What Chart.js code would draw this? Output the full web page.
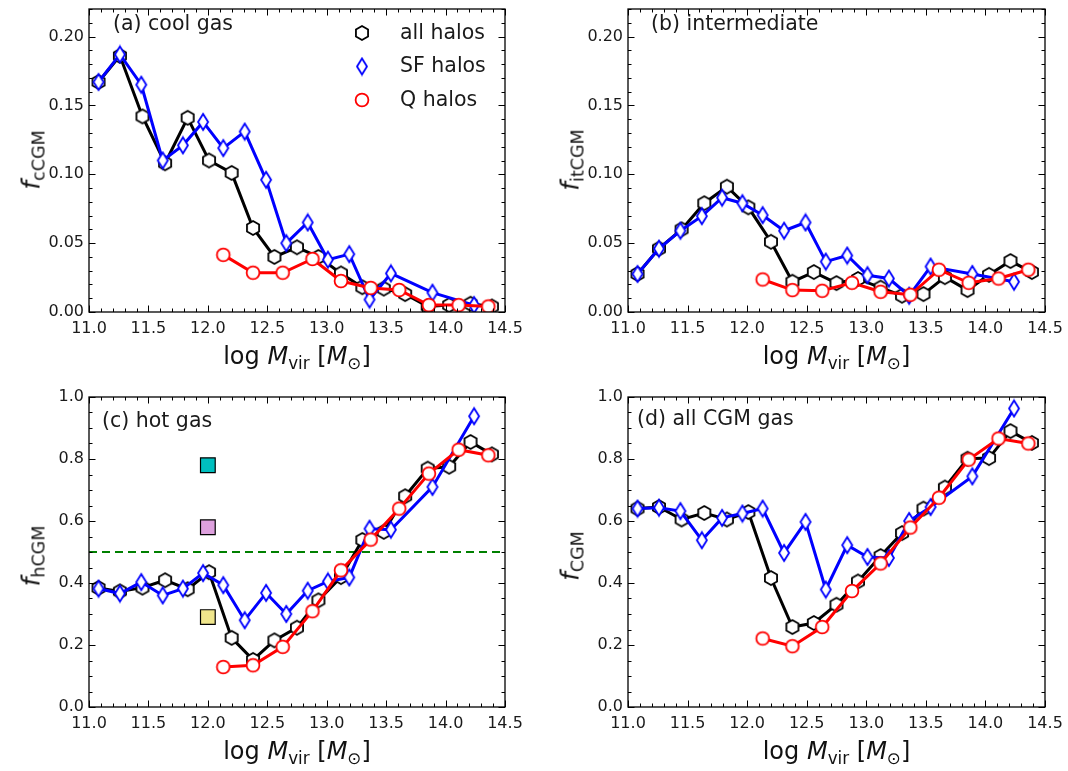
<!DOCTYPE html>
<html>
<head>
<meta charset="utf-8">
<title>CGM gas fractions vs halo mass</title>
<script src="https://cdn.jsdelivr.net/npm/chart.js@4.4.1/dist/chart.umd.min.js"></script>
<style>
  body { margin: 0; background: #fff; font-family: 'DejaVu Sans', sans-serif; color: #111; }
  #fig { position: relative; width: 1068px; height: 771px; overflow: hidden; }
  #fig canvas { position: absolute; }
  .txt { position: absolute; white-space: nowrap; font-size: 20.5px; line-height: 20px; color: #1a1a1a; }
  .xt { position: absolute; white-space: nowrap; font-size: 24px; line-height: 24px; text-align: center; }
  .yt { position: absolute; white-space: nowrap; font-size: 25px; line-height: 25px; transform: translate(-50%, -50%) rotate(-90deg); }
  sub { font-size: 0.7em; line-height: 0; vertical-align: -0.28em; }
</style>
</head>
<body>
<div id="fig">
  <canvas id="pa" width="540" height="345" style="left:0;top:0"></canvas>
  <canvas id="pb" width="523" height="345" style="left:545px;top:0"></canvas>
  <canvas id="pc" width="540" height="360" style="left:0;top:380px"></canvas>
  <canvas id="pd" width="523" height="360" style="left:545px;top:380px"></canvas>

  <div class="txt" style="left:113px;top:13px">(a) cool gas</div>
  <div class="txt" style="left:651px;top:13px">(b) intermediate</div>
  <div class="txt" style="left:102px;top:410px">(c) hot gas</div>
  <div class="txt" style="left:637px;top:408px">(d) all CGM gas</div>

  <div class="txt" style="left:400px;top:22px">all halos</div>
  <div class="txt" style="left:400px;top:55px">SF halos</div>
  <div class="txt" style="left:400px;top:89px">Q halos</div>

  <div class="xt" style="left:89px;top:344px;width:416px">log <i>M</i><sub>vir</sub> [<i>M</i><sub>⊙</sub>]</div>
  <div class="xt" style="left:628px;top:344px;width:417px">log <i>M</i><sub>vir</sub> [<i>M</i><sub>⊙</sub>]</div>
  <div class="xt" style="left:89px;top:739px;width:416px">log <i>M</i><sub>vir</sub> [<i>M</i><sub>⊙</sub>]</div>
  <div class="xt" style="left:628px;top:739px;width:417px">log <i>M</i><sub>vir</sub> [<i>M</i><sub>⊙</sub>]</div>

  <div class="yt" style="left:31px;top:160px"><i>f</i><sub>cCGM</sub></div>
  <div class="yt" style="left:570px;top:160px"><i>f</i><sub>itCGM</sub></div>
  <div class="yt" style="left:31px;top:556px"><i>f</i><sub>hCGM</sub></div>
  <div class="yt" style="left:570px;top:556px"><i>f</i><sub>CGM</sub></div>
</div>

<script>
// ticks
const xTicks = [11.0, 11.5, 12.0, 12.5, 13.0, 13.5, 14.0, 14.5]
const yTicksLow = [0, 0.05, 0.10, 0.15, 0.20]
const yTicksHigh = [0, 0.2, 0.4, 0.6, 0.8, 1.0]

// bin positions (log Mvir) per sample
const xAll = [11.08, 11.26, 11.45, 11.64, 11.83, 12.01, 12.20, 12.38, 12.56, 12.75, 12.93, 13.12, 13.30, 13.48, 13.66, 13.85, 14.03, 14.21, 14.39]
const xSF = [11.08, 11.26, 11.44, 11.62, 11.79, 11.96, 12.13, 12.31, 12.49, 12.66, 12.84, 13.01, 13.19, 13.36, 13.54, 13.89, 14.24]
const xQ = [12.13, 12.38, 12.63, 12.88, 13.12, 13.37, 13.61, 13.86, 14.11, 14.36]

// (a) cool gas
const coolAll = [0.167, 0.186, 0.142, 0.108, 0.141, 0.110, 0.101, 0.061, 0.040, 0.047, 0.040, 0.028, 0.018, 0.017, 0.013, 0.004, 0.005, 0.006, 0.004]
const coolSF = [0.167, 0.187, 0.165, 0.110, 0.121, 0.138, 0.119, 0.131, 0.096, 0.050, 0.065, 0.038, 0.042, 0.009, 0.028, 0.014, 0.005]
const coolQ = [0.0415, 0.0285, 0.0285, 0.0385, 0.0225, 0.0175, 0.016, 0.005, 0.005, 0.004]

// (b) intermediate
const interAll = [0.0276, 0.046, 0.060, 0.079, 0.091, 0.076, 0.051, 0.022, 0.029, 0.021, 0.024, 0.0177, 0.0118, 0.013, 0.0253, 0.0159, 0.027, 0.037, 0.029]
const interSF = [0.0276, 0.046, 0.059, 0.0696, 0.083, 0.079, 0.0703, 0.059, 0.065, 0.0366, 0.041, 0.0267, 0.0243, 0.0118, 0.033, 0.0276, 0.022]
const interQ = [0.0236, 0.0159, 0.0154, 0.0212, 0.0147, 0.0125, 0.0307, 0.0212, 0.0243, 0.0307]

// (c) hot gas
const hotAll = [0.384, 0.373, 0.385, 0.409, 0.380, 0.435, 0.223, 0.152, 0.215, 0.256, 0.344, 0.419, 0.539, 0.565, 0.680, 0.769, 0.775, 0.855, 0.815]
const hotSF = [0.382, 0.366, 0.403, 0.360, 0.382, 0.432, 0.393, 0.280, 0.368, 0.300, 0.375, 0.405, 0.418, 0.575, 0.572, 0.710, 0.938]
const hotQ = [0.129, 0.1345, 0.194, 0.309, 0.441, 0.540, 0.640, 0.753, 0.830, 0.812]

// (d) all CGM gas
const cgmAll = [0.640, 0.645, 0.605, 0.626, 0.605, 0.629, 0.416, 0.258, 0.271, 0.330, 0.405, 0.487, 0.561, 0.640, 0.708, 0.801, 0.803, 0.890, 0.852]
const cgmSF = [0.640, 0.643, 0.632, 0.538, 0.610, 0.624, 0.640, 0.497, 0.597, 0.379, 0.522, 0.484, 0.481, 0.600, 0.645, 0.744, 0.963]
const cgmQ = [0.221, 0.196, 0.258, 0.374, 0.463, 0.579, 0.675, 0.798, 0.866, 0.850]

// reference squares and threshold in panel (c)
const refX = [12.0, 12.0, 12.0]
const refY = [0.78, 0.58, 0.29]
const splitX = [11.0, 14.5]
const splitY = [0.5, 0.5]

const refColors = ['#00bfbf', '#dda0dd', '#f0e68c']

Chart.defaults.font.family = "'DejaVu Sans', sans-serif"

const pts = (xs, ys) => xs.map((x, i) => ({ x, y: ys[i] }))

// open markers drawn once on small canvases
function marker(w, h, draw) {
  const c = document.createElement('canvas')
  c.width = w
  c.height = h
  const g = c.getContext('2d')
  g.translate(w / 2, h / 2)
  g.beginPath()
  draw(g)
  g.closePath()
  g.fillStyle = '#fff'
  g.fill()
  g.lineWidth = 1.8
  g.stroke()
  return c
}

const hexMark = marker(18, 18, g => {
  g.strokeStyle = '#000'
  for (let i = 0; i < 6; i++) {
    const t = -Math.PI / 2 + i * Math.PI / 3
    g.lineTo(7 * Math.cos(t), 7 * Math.sin(t))
  }
})
const diaMark = marker(14, 20, g => {
  g.strokeStyle = '#0000ff'
  g.moveTo(0, -8)
  g.lineTo(5, 0)
  g.lineTo(0, 8)
  g.lineTo(-5, 0)
})
const circMark = marker(18, 18, g => {
  g.strokeStyle = '#ff0000'
  g.arc(0, 0, 6.4, 0, Math.PI * 2)
})

function serie(label, data, color, mark, order) {
  return {
    label,
    data,
    borderColor: color,
    borderWidth: 3,
    pointStyle: mark,
    pointRadius: 6,
    order
  }
}

// frame with inward major/minor ticks on all four sides
const frameTicks = {
  id: 'frameTicks',
  afterDatasetsDraw(chart, args, opts) {
    const { ctx, chartArea: a, scales: { x, y } } = chart
    ctx.save()
    ctx.strokeStyle = '#000'
    ctx.lineWidth = 1
    ctx.beginPath()
    const tickX = (v, len) => {
      const p = Math.round(x.getPixelForValue(v)) + 0.5
      ctx.moveTo(p, a.bottom); ctx.lineTo(p, a.bottom - len)
      ctx.moveTo(p, a.top); ctx.lineTo(p, a.top + len)
    }
    const tickY = (v, len) => {
      const p = Math.round(y.getPixelForValue(v)) + 0.5
      ctx.moveTo(a.left, p); ctx.lineTo(a.left + len, p)
      ctx.moveTo(a.right, p); ctx.lineTo(a.right - len, p)
    }
    const nx = Math.round((x.max - x.min) / 0.1)
    for (let i = 0; i <= nx; i++) tickX(x.min + i * 0.1, 3.5)
    xTicks.forEach(v => tickX(v, 6.5))
    const ny = Math.round((y.max - y.min) / opts.yMinor)
    for (let i = 0; i <= ny; i++) tickY(y.min + i * opts.yMinor, 3.5)
    opts.yTicks.forEach(v => tickY(v, 6.5))
    ctx.stroke()
    ctx.lineWidth = 1.3
    ctx.strokeRect(a.left, a.top, a.right - a.left, a.bottom - a.top)
    ctx.restore()
  }
}

// legend inside panel (a)
const insetLegend = {
  id: 'insetLegend',
  afterDraw(chart) {
    const ctx = chart.ctx
    const rows = [[hexMark, 33], [diaMark, 66.5], [circMark, 100]]
    rows.forEach(([m, y]) => ctx.drawImage(m, 362 - m.width / 2, y - m.height / 2))
  }
}

function makePanel(id, box, plot, cfg) {
  const padTop = plot.top - box.top
  const padRight = box.left + box.width - plot.right
  const yWidth = plot.left - box.left
  const xHeight = box.top + box.height - plot.bottom

  const datasets = [
    serie('all halos', pts(xAll, cfg.all), '#000000', hexMark, 3),
    serie('SF halos', pts(xSF, cfg.sf), '#0000ff', diaMark, 2),
    serie('Q halos', pts(xQ, cfg.q), '#ff0000', circMark, 1)
  ]
  if (cfg.extras) {
    datasets.push({
      label: 'split',
      data: pts(splitX, splitY),
      borderColor: '#008000',
      borderWidth: 2,
      borderDash: [8, 5],
      pointRadius: 0,
      order: 4
    })
    datasets.push({
      label: 'ref',
      data: pts(refX, refY),
      showLine: false,
      pointStyle: 'rect',
      pointRadius: 10.4,
      pointBackgroundColor: refColors,
      pointBorderColor: '#000',
      pointBorderWidth: 1.2,
      order: 0
    })
  }

  new Chart(document.getElementById(id), {
    type: 'line',
    data: { datasets },
    plugins: cfg.legend ? [frameTicks, insetLegend] : [frameTicks],
    options: {
      responsive: false,
      animation: false,
      events: [],
      layout: { padding: { left: 0, top: padTop, right: padRight, bottom: 0 } },
      plugins: {
        legend: { display: false },
        tooltip: { enabled: false },
        frameTicks: { yMinor: cfg.yMinor, yTicks: cfg.yTicks }
      },
      scales: {
        x: {
          type: 'linear',
          min: 11,
          max: 14.5,
          grid: { display: false, drawTicks: false },
          border: { display: false },
          ticks: { autoSkip: false, maxRotation: 0, padding: 7, color: '#1a1a1a', font: { size: 16 }, callback: v => v.toFixed(1) },
          afterBuildTicks: s => { s.ticks = xTicks.map(v => ({ value: v })) },
          afterFit: s => { s.height = xHeight; s.paddingLeft = 0; s.paddingRight = 0 }
        },
        y: {
          type: 'linear',
          min: 0,
          max: cfg.yMax,
          grid: { display: false, drawTicks: false },
          border: { display: false },
          ticks: { padding: 5, color: '#1a1a1a', font: { size: 16 }, callback: v => v.toFixed(cfg.digits) },
          afterBuildTicks: s => { s.ticks = cfg.yTicks.map(v => ({ value: v })) },
          afterFit: s => { s.width = yWidth; s.paddingTop = 0; s.paddingBottom = 0 }
        }
      }
    }
  })
}

const low = { yMax: 0.22, yTicks: yTicksLow, yMinor: 0.01, digits: 2 }
const high = { yMax: 1.0, yTicks: yTicksHigh, yMinor: 0.05, digits: 1 }

makePanel('pa', { left: 0, top: 0, width: 540, height: 345 }, { left: 89, top: 2, right: 505, bottom: 312 },
  { ...low, all: coolAll, sf: coolSF, q: coolQ, legend: true })
makePanel('pb', { left: 545, top: 0, width: 523, height: 345 }, { left: 628, top: 2, right: 1045, bottom: 312 },
  { ...low, all: interAll, sf: interSF, q: interQ })
makePanel('pc', { left: 0, top: 380, width: 540, height: 360 }, { left: 89, top: 397, right: 505, bottom: 707 },
  { ...high, all: hotAll, sf: hotSF, q: hotQ, extras: true })
makePanel('pd', { left: 545, top: 380, width: 523, height: 360 }, { left: 628, top: 397, right: 1045, bottom: 707 },
  { ...high, all: cgmAll, sf: cgmSF, q: cgmQ })
</script>
</body>
</html>
